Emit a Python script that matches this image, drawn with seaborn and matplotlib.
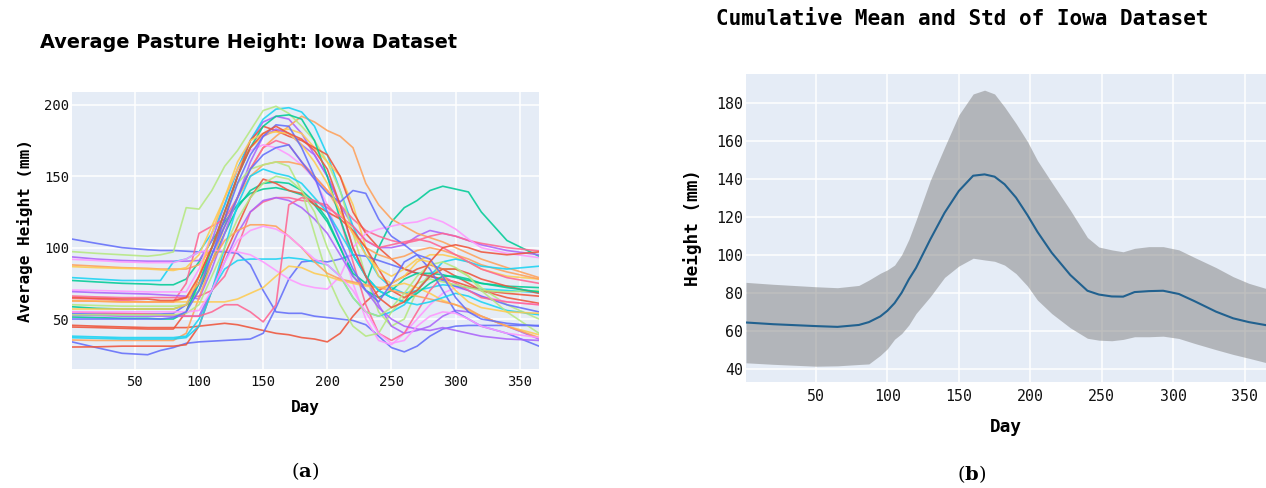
import numpy as np
import pandas as pd
import matplotlib
matplotlib.use("Agg")
import matplotlib.pyplot as plt
import seaborn as sns

# ---------------- data: left panel (pasture height per paddock) ----------------
DAYS = [1, 20, 40, 60, 70, 80, 90, 100, 110, 120, 130, 140, 150, 160, 170, 180,
        190, 200, 210, 220, 230, 240, 250, 260, 270, 280, 290, 300, 310, 320, 340, 365]

b1 = [106, 103, 100, 98.5, 98, 98, 97.5, 97, 97.5, 97, 96, 88, 70, 55, 54, 54, 52, 51, 50, 49, 46, 38, 30, 27, 31, 38, 43, 45, 45.5, 45.5, 45.5, 45.5]
r1 = [45.6, 45, 44.5, 44, 44, 44, 44, 45, 46, 47, 46, 44, 42, 40, 39, 37, 36, 34, 40, 52, 62, 70, 75, 80, 85, 88, 85, 80, 75, 70, 65, 61]
g1 = [77, 76, 75, 74.5, 74, 74, 78, 90, 105, 118, 130, 138, 141, 142, 140, 137, 130, 118, 100, 82, 75, 100, 118, 128, 133, 140, 143, 141, 139, 125, 105, 94]
p1 = [93.5, 92, 91, 90.5, 90.5, 90.5, 90.5, 91, 105, 130, 155, 175, 188, 192, 190, 180, 165, 150, 130, 115, 105, 100, 100, 102, 108, 112, 110, 108, 105, 102, 98, 95]
o1 = [87.9, 87, 86, 85.5, 85, 85, 85, 88, 100, 115, 135, 155, 170, 178, 185, 192, 188, 182, 178, 170, 145, 130, 120, 115, 110, 107, 104, 100, 96, 92, 86, 79]
c1 = [79, 78, 77, 77, 77, 90, 92, 97, 110, 130, 155, 175, 190, 197, 198, 195, 185, 165, 140, 115, 95, 80, 72, 68, 70, 72, 74, 73, 72, 71, 70, 68.5]
k1 = [64.5, 64, 63, 62, 62, 62, 75, 110, 115, 120, 135, 155, 170, 175, 172, 160, 150, 140, 130, 120, 112, 108, 105, 103, 105, 108, 110, 108, 105, 103, 100, 97.7]
l1 = [97.2, 96, 95, 94, 95, 97, 128, 127, 140, 157, 168, 182, 196, 199, 194, 185, 175, 160, 140, 110, 80, 55, 45, 50, 70, 82, 85, 85, 80, 72, 60, 50]
m1 = [70.3, 70, 69.5, 69, 69, 69, 69, 85, 110, 135, 155, 168, 172, 170, 165, 158, 148, 130, 105, 75, 50, 35, 32, 40, 50, 60, 68, 72, 70, 66, 62, 60]
y1 = [86.7, 86, 85.5, 85, 84.5, 84, 86, 95, 115, 135, 155, 170, 178, 182, 183, 180, 170, 160, 150, 130, 100, 80, 75, 80, 90, 95, 95, 93, 90, 85, 80, 78]
b2 = [34, 30, 26, 25, 28, 30, 33, 34, 34.5, 35, 35.5, 36, 40, 58, 78, 90, 91, 90, 92, 95, 94, 91, 88, 85, 82, 80, 77, 73, 70, 66, 60, 55]
r2 = [44.4, 44, 43.5, 43, 43, 43, 55, 80, 100, 120, 150, 175, 185, 182, 178, 175, 170, 165, 150, 125, 110, 100, 92, 85, 82, 80, 78, 76, 73, 70, 68, 66]
g2 = [58.6, 57.5, 57, 57, 57, 57, 60, 70, 90, 110, 128, 140, 145, 146, 145, 140, 132, 120, 100, 80, 70, 65, 70, 78, 82, 82, 81, 79, 77, 75, 73, 72]
p2 = [69.2, 68.5, 68, 67.5, 67, 66.5, 66, 64, 85, 110, 135, 160, 178, 183, 180, 172, 165, 150, 130, 100, 80, 60, 45, 40, 42, 45, 52, 56, 55, 52, 45, 36]
o2 = [35.3, 35, 35, 35, 35, 35, 40, 65, 90, 115, 135, 150, 158, 160, 160, 158, 150, 140, 125, 110, 100, 95, 92, 94, 98, 100, 98, 95, 92, 88, 83, 78]
c2 = [38, 37.5, 37, 37, 37, 37, 38, 50, 70, 85, 91, 92, 92, 92, 93, 92, 90, 88, 80, 65, 55, 52, 55, 60, 70, 80, 90, 92, 90, 87, 85, 87]
k2 = [66.1, 65.5, 65, 65, 65, 65, 65, 66, 70, 80, 100, 125, 132, 135, 135, 133, 132, 130, 120, 90, 60, 40, 35, 40, 55, 70, 80, 75, 70, 65, 62, 60]
l2 = [60, 59.5, 59, 59, 59, 59, 60, 70, 100, 125, 145, 155, 158, 160, 157, 140, 110, 80, 60, 45, 38, 40, 55, 65, 75, 78, 76, 74, 72, 70, 69, 70]
m2 = [91.8, 91, 90, 89.5, 89.5, 89.5, 92, 97, 98, 98, 97, 95, 90, 84, 78, 74, 72, 71, 80, 100, 110, 113, 115, 117, 118, 121, 118, 113, 106, 100, 96, 93]
y2 = [63, 62.5, 62, 62, 62, 62, 62, 62, 62, 62, 64, 68, 72, 80, 87, 86, 82, 80, 77, 75, 73, 72, 73, 75, 72, 68, 63, 60, 56, 52, 45, 39]
b3 = [53.7, 53.5, 53.5, 53.5, 53.5, 54, 60, 75, 95, 115, 135, 155, 165, 170, 172, 160, 148, 138, 132, 140, 138, 120, 108, 102, 95, 85, 70, 55, 50, 45, 40, 31]
r3 = [30.4, 30.5, 31, 31, 31, 31, 32, 45, 70, 95, 115, 135, 148, 145, 140, 138, 130, 125, 120, 112, 100, 85, 70, 65, 70, 80, 85, 85, 82, 78, 73, 68]
g3 = [51.4, 51, 50.5, 50.5, 50, 50, 55, 75, 100, 125, 150, 170, 185, 192, 193, 190, 175, 150, 120, 95, 80, 70, 65, 62, 68, 75, 80, 80, 78, 75, 72, 69]
p3 = [52.5, 52.5, 52, 52, 52, 52, 52, 52, 70, 90, 110, 125, 133, 135, 133, 128, 120, 110, 95, 80, 70, 58, 50, 45, 43, 42, 44, 42, 40, 38, 36, 35]
o3 = [62.6, 62.5, 62, 62, 62, 62, 65, 75, 90, 105, 112, 116, 116, 115, 108, 100, 90, 82, 78, 76, 74, 72, 70, 68, 66, 64, 62, 60, 57, 52, 45, 37]
c3 = [36.9, 36.5, 36, 36, 36, 36, 37, 45, 70, 100, 130, 150, 155, 152, 150, 145, 135, 125, 110, 95, 80, 70, 65, 62, 60, 62, 65, 68, 66, 62, 56, 53]
k3 = [55, 54.5, 54, 53.5, 53, 53, 52, 52, 55, 60, 60, 55, 48, 60, 130, 135, 133, 128, 122, 115, 105, 100, 102, 104, 106, 104, 100, 95, 90, 85, 79, 75]
l3 = [53, 53, 53, 53, 53, 53, 54, 60, 80, 100, 120, 135, 145, 150, 148, 140, 125, 100, 80, 65, 55, 52, 58, 68, 80, 88, 90, 86, 80, 70, 55, 40]
m3 = [55, 55, 55, 55, 55, 55, 55, 56, 70, 90, 105, 112, 115, 113, 108, 100, 92, 88, 80, 70, 55, 40, 33, 35, 45, 52, 55, 54, 50, 45, 40, 37]
y3 = [57, 57, 57, 57, 57, 57, 60, 80, 110, 135, 160, 175, 180, 181, 180, 172, 160, 145, 125, 110, 95, 85, 80, 85, 92, 90, 80, 70, 62, 58, 55, 54]
b4 = [50, 50, 50, 50, 50, 51, 55, 70, 95, 120, 145, 165, 178, 186, 185, 170, 150, 125, 105, 85, 70, 62, 75, 90, 95, 92, 80, 65, 55, 50, 47, 45]
r4 = [65, 64.5, 64, 64, 63, 63, 65, 80, 100, 125, 150, 170, 180, 185, 180, 176, 168, 155, 130, 100, 80, 65, 58, 62, 75, 90, 100, 102, 100, 97, 95, 97]

SERIES = [b1, r1, g1, p1, o1, c1, k1, l1, m1, y1,
          b2, r2, g2, p2, o2, c2, k2, l2, m2, y2,
          b3, r3, g3, p3, o3, c3, k3, l3, m3, y3,
          b4, r4]

PLOTLY = ['#636EFA', '#EF553B', '#00CC96', '#AB63FA', '#FFA15A',
          '#19D3F3', '#FF6692', '#B6E880', '#FF97FF', '#FECB52']

# ---------------- data: right panel (cumulative mean / std band) ----------------
DAY_B = [1, 20, 50, 65, 80, 87, 95, 100, 105, 110, 115, 120, 130, 140, 150, 160, 168,
         175, 182, 190, 198, 205, 215, 228, 240, 248, 257, 265, 273, 283, 293, 304,
         315, 330, 342, 353, 365]
MEAN = [64.3, 63.4, 62.4, 62.0, 63.0, 64.5, 67.5, 70.5, 74.5, 80, 87, 93, 108, 122,
        133.5, 141.5, 142.2, 141, 137, 130, 120.8, 112, 101, 89.3, 81, 79, 78, 77.9,
        80.3, 80.8, 81, 79.3, 75.5, 70, 66.5, 64.5, 62.9]
UPPER = [85.4, 84.4, 83.1, 82.6, 83.8, 86.6, 90.2, 92, 94.5, 100, 108, 118, 139, 156.5,
         173.5, 184.5, 186.5, 184.5, 177.7, 169, 159.5, 149.5, 138, 123.4, 109, 104,
         102.5, 101.5, 103.3, 104.2, 104.2, 102.5, 98.5, 93.2, 88.4, 84.9, 82.2]
LOWER = [43.1, 42.3, 41.3, 41.5, 42.2, 42.5, 47, 50.5, 55.5, 58.5, 63, 69, 77.9, 88,
         94, 98.1, 97.2, 96.5, 94.5, 90, 83.5, 76.1, 69, 61.5, 56, 55, 54.7, 55.4,
         56.8, 56.8, 57.1, 55.9, 53.3, 50, 47.5, 45.5, 43.2]

X_TICKS = [50, 100, 150, 200, 250, 300, 350]
Y_TICKS_A = [50, 100, 150, 200]
Y_TICKS_B = [40, 60, 80, 100, 120, 140, 160, 180]

# ---------------- styling ----------------
sns.set_theme(style="darkgrid")
plt.rcParams['font.family'] = ['DejaVu Sans Mono', 'DejaVu Sans']
plt.rcParams['mathtext.fontset'] = 'dejavuserif'
plt.rcParams['text.color'] = 'black'
plt.rcParams['axes.labelcolor'] = 'black'

BG = '#E5ECF6'
W, H = 1266, 488
fig = plt.figure(figsize=(W / 100, H / 100), dpi=100)
fig.patch.set_facecolor('white')

def px_axes(x0, y0, x1, y1):
    return fig.add_axes([x0 / W, 1 - y1 / H, (x1 - x0) / W, (y1 - y0) / H])

def style(ax, fs):
    ax.set_facecolor(BG)
    for s in ax.spines.values():
        s.set_visible(False)
    ax.grid(True, color='white', linewidth=1.1)
    ax.set_axisbelow(True)
    ax.tick_params(length=0, labelsize=fs, colors='#111111')
    for lab in ax.get_xticklabels() + ax.get_yticklabels():
        lab.set_family('DejaVu Sans Mono')

# ---------------- left panel ----------------
axA = px_axes(72, 92, 539, 369)
rows = []
for i, s in enumerate(SERIES):
    for d, v in zip(DAYS, s):
        rows.append((i, d, v))
dfA = pd.DataFrame(rows, columns=['series', 'day', 'height'])
sns.lineplot(data=dfA, x='day', y='height', hue='series',
             palette=[PLOTLY[i % 10] for i in range(len(SERIES))],
             legend=False, linewidth=1.2, alpha=0.88, ax=axA, estimator=None)
axA.set_xlim(1, 365)
axA.set_ylim(15, 209)
axA.set_xticks(X_TICKS)
axA.set_yticks(Y_TICKS_A)
style(axA, 10)
axA.tick_params(axis='x', pad=4)
axA.tick_params(axis='y', pad=2)
axA.set_xlabel('Day', fontsize=11.5, fontweight='bold', labelpad=8)
axA.set_ylabel('Average Height (mm)', fontsize=11.5, fontweight='bold', labelpad=8)

# ---------------- right panel ----------------
axB = px_axes(746, 74, 1266, 382)
axB.fill_between(DAY_B, LOWER, UPPER, color='gray', alpha=0.5, linewidth=0)
dfB = pd.DataFrame({'day': DAY_B, 'mean': MEAN})
sns.lineplot(data=dfB, x='day', y='mean', color='#21618F', linewidth=1.5, ax=axB)
axB.set_xlim(1, 365)
axB.set_ylim(33, 195)
axB.set_xticks(X_TICKS)
axB.set_yticks(Y_TICKS_B)
style(axB, 10.7)
axB.tick_params(axis='x', pad=5)
axB.tick_params(axis='y', pad=2)
axB.set_xlabel('Day', fontsize=12.8, fontweight='bold', labelpad=10)
axB.set_ylabel('Height (mm)', fontsize=12.8, fontweight='bold', labelpad=10)

# ---------------- titles & captions ----------------
tA = fig.text(40 / W, 1 - 43 / H, 'Average Pasture Height: Iowa Dataset',
              family='DejaVu Sans', fontweight='bold', fontsize=13,
              ha='left', va='center', color='black')
tB = fig.text(716 / W, 1 - 19 / H, 'Cumulative Mean and Std of Iowa Dataset',
              family='DejaVu Sans Mono', fontweight='bold', fontsize=15,
              ha='left', va='center', color='black')

fig.canvas.draw()
r = fig.canvas.get_renderer()
for t, target in ((tA, 413), (tB, 495)):
    w = t.get_window_extent(r).width
    t.set_fontsize(t.get_fontsize() * target / w)

fig.text(305 / W, 1 - 471 / H, r'($\mathbf{a}$)', family='DejaVu Serif',
         fontsize=14, ha='center', va='center', color='black')
fig.text(972 / W, 1 - 474 / H, r'($\mathbf{b}$)', family='DejaVu Serif',
         fontsize=14, ha='center', va='center', color='black')

fig.savefig('out.png', dpi=100, facecolor='white')
